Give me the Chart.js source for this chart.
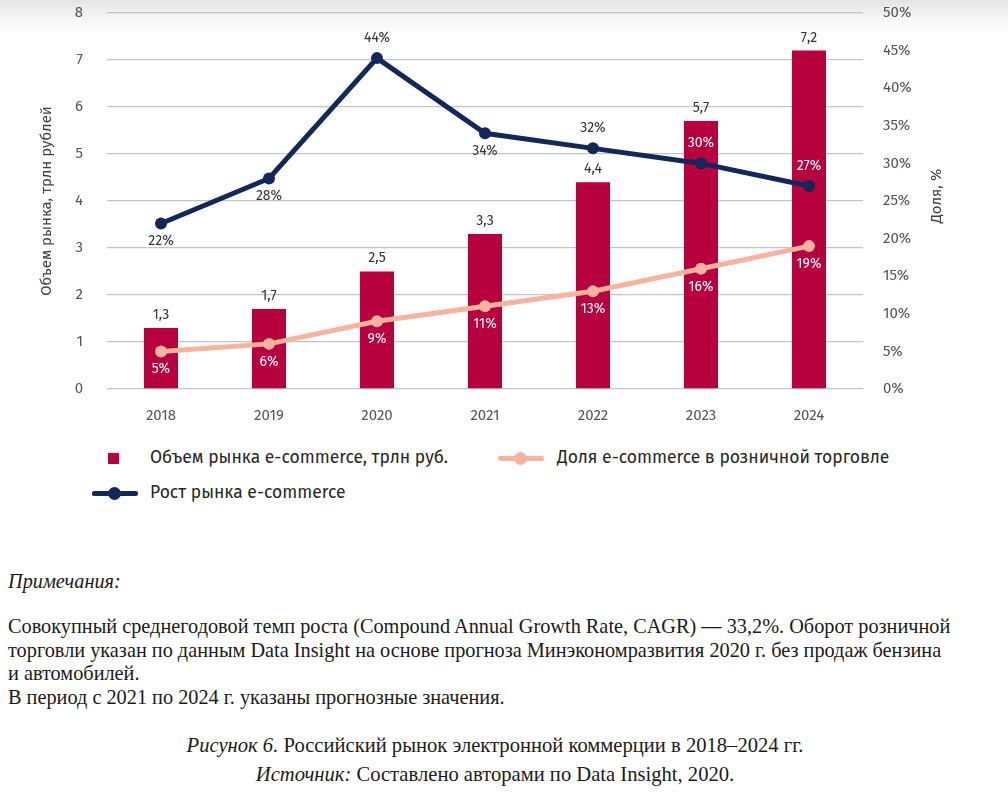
<!DOCTYPE html>
<html lang="ru">
<head>
<meta charset="utf-8">
<script src="https://cdn.jsdelivr.net/npm/chart.js@4"></script>
<style>
  html, body { margin: 0; padding: 0; background: #fff; width: 1008px; height: 793px; overflow: hidden; }
  body { position: relative; font-family: "Open Sans", sans-serif; }
  .topshade { position: absolute; left: 0; top: 0; width: 1008px; height: 34px;
    background: linear-gradient(to bottom, #e4e4e4 0%, #f4f4f4 50%, rgba(255,255,255,0) 100%); z-index: 0; }
  #wrap { position: absolute; left: 0; top: -20px; width: 1008px; height: 448px; z-index: 1; }
  .legend { position: absolute; font-family: "Fira Sans", "Open Sans", sans-serif; font-size: 17.5px; color: #262626; z-index: 1; }
  .lg-item { position: absolute; white-space: nowrap; height: 22px; line-height: 22px; }
  .sq { position: absolute; width: 11px; height: 11px; background: #b8003f; }
  .ln { position: absolute; height: 5px; border-radius: 2px; }
  .dot { position: absolute; width: 13px; height: 13px; border-radius: 50%; }
  .notes { position: absolute; left: 8px; font-family: "Liberation Serif", serif; font-size: 20.3px; color: #1a1a1a; z-index: 1; white-space: nowrap; }
  .center { position: absolute; left: 0; width: 990px; text-align: center; font-family: "Liberation Serif", serif; font-size: 20.6px; color: #1a1a1a; }
</style>
</head>
<body>
<div class="topshade"></div>
<div id="wrap"><canvas id="c" width="1008" height="448"></canvas></div>

<div class="legend">
  <div class="sq" style="left:108px; top:453px;"></div>
  <div class="lg-item" style="left:150px; top:447px;">Объем рынка e-commerce, трлн руб.</div>
  <div class="ln" style="left:498px; top:456px; width:46px; background:#f7b39d;"></div>
  <div class="dot" style="left:514px; top:452px; background:#f7b39d;"></div>
  <div class="lg-item" style="left:557px; top:447px;">Доля e-commerce в розничной торговле</div>
  <div class="ln" style="left:92px; top:491px; width:46px; background:#13285a;"></div>
  <div class="dot" style="left:108px; top:487px; background:#13285a;"></div>
  <div class="lg-item" style="left:150px; top:482px;">Рост рынка e-commerce</div>
</div>

<div class="notes" style="top:570px;"><i>Примечания:</i></div>
<div class="notes" style="top:615px; line-height:23.5px;">
Совокупный среднегодовой темп роста (Compound Annual Growth Rate, CAGR) — 33,2%. Оборот розничной<br>
торговли указан по данным Data Insight на основе прогноза Минэкономразвития 2020 г. без продаж бензина<br>
и автомобилей.<br>
В период с 2021 по 2024 г. указаны прогнозные значения.
</div>
<div class="center" style="top:734px;"><i>Рисунок 6.</i> Российский рынок электронной коммерции в 2018–2024 гг.</div>
<div class="center" style="top:763px;"><i>Источник:</i> Составлено авторами по Data Insight, 2020.</div>

<script>
// ---- data ----
const years = ["2018", "2019", "2020", "2021", "2022", "2023", "2024"];
const marketVolume = [1.3, 1.7, 2.5, 3.3, 4.4, 5.7, 7.2];       // трлн руб.
const retailShare = [5, 6, 9, 11, 13, 16, 19];                  // %
const marketGrowth = [22, 28, 44, 34, 32, 30, 27];              // %
const leftTicks = [0, 1, 2, 3, 4, 5, 6, 7, 8];
const rightTicks = [0, 5, 10, 15, 20, 25, 30, 35, 40, 45, 50];
// label placement for growth line: 'below' or 'above'
const growthLabelPos = ["below", "below", "above", "below", "above", "above", "above"];

const C_BAR = "#b8003f", C_SHARE = "#f7b39d", C_GROWTH = "#13285a";
const FONT = "'Fira Sans', 'Open Sans', sans-serif";

const labelPlugin = {
  id: "labels",
  afterDatasetsDraw(chart) {
    const ctx = chart.ctx;
    ctx.save();
    ctx.font = "14px " + FONT;
    ctx.textAlign = "center";
    ctx.textBaseline = "middle";
    const mb = chart.getDatasetMeta(0);
    mb.data.forEach((el, i) => {
      ctx.fillStyle = "#333";
      ctx.fillText(String(marketVolume[i]).replace(".", ","), el.x, el.y - 13);
    });
    const ms = chart.getDatasetMeta(1);
    ms.data.forEach((el, i) => {
      ctx.fillStyle = "#ffffff";
      ctx.fillText(retailShare[i] + "%", el.x, el.y + 18);
    });
    const mg = chart.getDatasetMeta(2);
    const barTop = mb.data.map(e => e.y);
    mg.data.forEach((el, i) => {
      const y = growthLabelPos[i] === "below" ? el.y + 18 : el.y - 20;
      const onBar = y > barTop[i] + 4;
      ctx.fillStyle = onBar ? "#ffffff" : "#333";
      ctx.fillText(marketGrowth[i] + "%", el.x, y);
    });
    ctx.fillStyle = "#404040";
    ctx.font = "15px " + FONT;
    const cy = (chart.chartArea.top + chart.chartArea.bottom) / 2;
    [[47, cy, "Объем рынка, трлн рублей"], [937, cy - 5, "Доля, %"]].forEach(([x, y, t]) => {
      ctx.save();
      ctx.translate(x, y);
      ctx.rotate(-Math.PI / 2);
      ctx.fillText(t, 0, 0);
      ctx.restore();
    });
    ctx.restore();
  }
};

new Chart(document.getElementById("c"), {
  data: {
    labels: years,
    datasets: [
      { type: "bar", label: "Объем рынка e-commerce, трлн руб.", data: marketVolume, yAxisID: "y",
        backgroundColor: C_BAR, barPercentage: 0.315, categoryPercentage: 1, order: 3 },
      { type: "line", label: "Доля e-commerce в розничной торговле", data: retailShare, yAxisID: "y2",
        borderColor: C_SHARE, backgroundColor: C_SHARE, borderWidth: 5, pointRadius: 6, pointHoverRadius: 6,
        pointBackgroundColor: C_SHARE, pointBorderWidth: 0, tension: 0, order: 2 },
      { type: "line", label: "Рост рынка e-commerce", data: marketGrowth, yAxisID: "y2",
        borderColor: C_GROWTH, backgroundColor: C_GROWTH, borderWidth: 5, pointRadius: 6, pointHoverRadius: 6,
        pointBackgroundColor: C_GROWTH, pointBorderWidth: 0, tension: 0, order: 1 }
    ]
  },
  options: {
    responsive: false,
    animation: false,
    layout: { padding: { top: 10, left: 0, right: 0, bottom: 0 } },
    plugins: { legend: { display: false }, tooltip: { enabled: false } },
    scales: {
      x: {
        grid: { display: false },
        border: { display: false },
        ticks: { color: "#555", font: { family: FONT, size: 15 }, padding: 10 },
        afterFit(s) { s.height = 39; }
      },
      y: {
        position: "left", min: 0, max: 8,
        afterBuildTicks(s) { s.ticks = leftTicks.map(v => ({ value: v })); },
        grid: { color: "#c4c4c4", lineWidth: 1.3, drawTicks: false },
        border: { display: false },
        ticks: { color: "#555", font: { family: FONT, size: 15 }, padding: 24 },
        afterFit(s) { s.width = 107; }
      },
      y2: {
        position: "right", min: 0, max: 50,
        afterBuildTicks(s) { s.ticks = rightTicks.map(v => ({ value: v })); },
        grid: { display: false, drawTicks: false },
        border: { display: false },
        ticks: { color: "#555", font: { family: FONT, size: 15 }, padding: 20, callback: v => v + "%" },
        afterFit(s) { s.width = 145; }
      }
    }
  },
  plugins: [labelPlugin]
});
</script>
</body>
</html>
